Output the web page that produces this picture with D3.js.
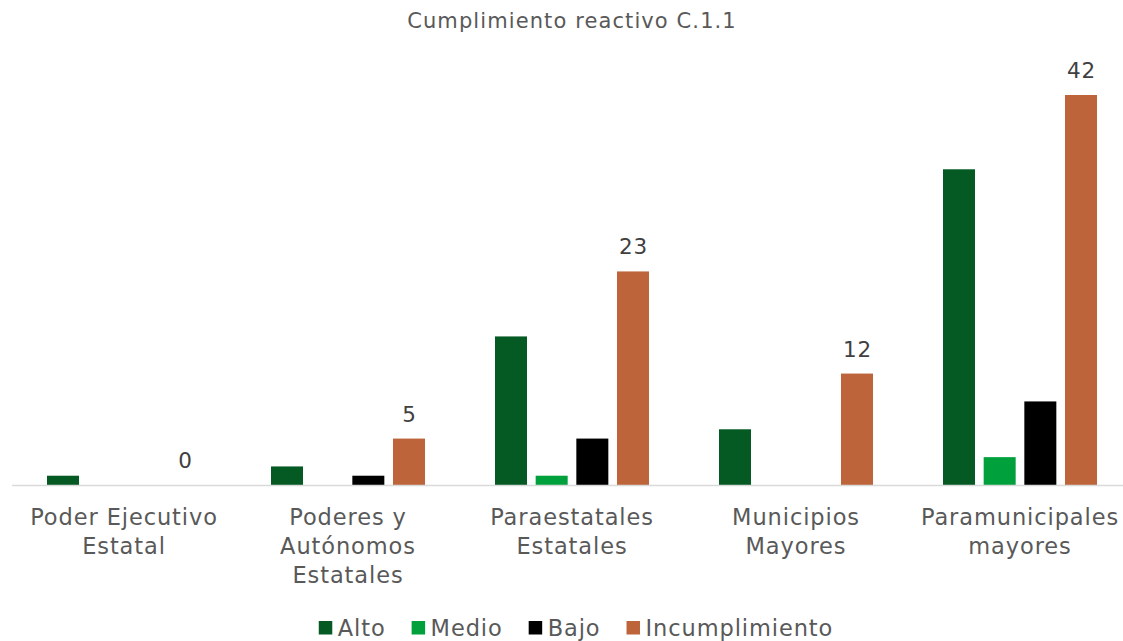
<!DOCTYPE html>
<html>
<head>
<meta charset="utf-8">
<script src="https://cdn.jsdelivr.net/npm/d3@7"></script>
<style>
  html, body { margin: 0; padding: 0; background: #fff; }
</style>
</head>
<body>
<svg id="chart" width="1123" height="641"></svg>
<script>
const title = "Cumplimiento reactivo C.1.1";
const categories = [
  ["Poder Ejecutivo", "Estatal"],
  ["Poderes y", "Autónomos", "Estatales"],
  ["Paraestatales", "Estatales"],
  ["Municipios", "Mayores"],
  ["Paramunicipales", "mayores"]
];
const seriesNames = ["Alto", "Medio", "Bajo", "Incumplimiento"];
const seriesColors = ["#045a22", "#00a03c", "#000000", "#bd643b"];
const alto = [1, 2, 16, 6, 34];
const medio = [0, 0, 1, 0, 3];
const bajo = [0, 1, 5, 0, 9];
const incumplimiento = [0, 5, 23, 12, 42];
const labeledSeries = "Incumplimiento";

const FONT = "DejaVu Sans";
const seriesValues = [alto, medio, bajo, incumplimiento];
const catKeys = categories.map(c => c.join(" "));
const data = catKeys.map((k, i) => ({
  key: k,
  lines: categories[i],
  values: seriesNames.map((s, j) => ({ series: s, value: seriesValues[j][i] }))
}));

const svg = d3.select("#chart");
const x0 = d3.scaleBand().domain(catKeys).range([12, 1132]).paddingInner(0.3125).paddingOuter(0.15625);
const x1 = d3.scaleBand().domain(seriesNames).range([0, x0.bandwidth()]).paddingInner(0.213).paddingOuter(0);
const y = d3.scaleLinear().domain([0, 42]).range([485, 95]);
const color = d3.scaleOrdinal().domain(seriesNames).range(seriesColors);

// title
svg.append("text").attr("x", 572).attr("y", 28).attr("text-anchor", "middle")
  .attr("font-family", FONT).attr("font-size", 21).attr("letter-spacing", 1.1)
  .attr("fill", "#595959").text(title);

// bars
const groups = svg.append("g").selectAll("g").data(data).join("g")
  .attr("transform", d => `translate(${x0(d.key)},0)`);
groups.selectAll("rect").data(d => d.values.filter(v => v.value > 0)).join("rect")
  .attr("x", d => x1(d.series)).attr("width", x1.bandwidth())
  .attr("y", d => y(d.value)).attr("height", d => y(0) - y(d.value))
  .attr("fill", d => color(d.series));

// data labels
groups.selectAll("text.lbl").data(d => d.values.filter(v => v.series === labeledSeries)).join("text")
  .attr("class", "lbl")
  .attr("x", d => x1(d.series) + x1.bandwidth() / 2 + 0.5)
  .attr("y", d => y(d.value) - 17)
  .attr("text-anchor", "middle").attr("font-family", FONT).attr("font-size", 21.5)
  .attr("letter-spacing", 0.8).attr("fill", "#404040")
  .text(d => d.value);

// x axis
const xAxis = d3.axisBottom(x0).tickSize(0).tickFormat("");
const ax = svg.append("g").attr("transform", `translate(0,${y(0)})`).call(xAxis);
ax.select(".domain").attr("stroke", "#d9d9d9").attr("stroke-width", 1.5).attr("d", "M12,0.5H1123");
ax.selectAll(".tick").each(function(k) {
  const d = data.find(e => e.key === k);
  const t = d3.select(this).append("text").attr("fill", "#595959")
    .attr("font-family", FONT).attr("font-size", 22.5).attr("letter-spacing", 0.9)
    .attr("text-anchor", "middle").attr("y", 39.5);
  d.lines.forEach((ln, i) => t.append("tspan").attr("x", 0).attr("dy", i === 0 ? 0 : 29).text(ln));
});

// legend
const leg = svg.append("g");
let cx = 0;
seriesNames.forEach(s => {
  const g = leg.append("g").attr("transform", `translate(${cx},0)`);
  g.append("rect").attr("x", 0).attr("y", -7).attr("width", 13.5).attr("height", 13.5).attr("fill", color(s));
  const t = g.append("text").attr("x", 19).attr("y", 8).attr("font-family", FONT)
    .attr("font-size", 22.5).attr("letter-spacing", 0.9).attr("fill", "#595959").text(s);
  const w = t.node().getComputedTextLength();
  cx += 19 + w + 26;
});
const total = cx - 26;
leg.attr("transform", `translate(${576 - total / 2},628)`);
</script>
</body>
</html>
